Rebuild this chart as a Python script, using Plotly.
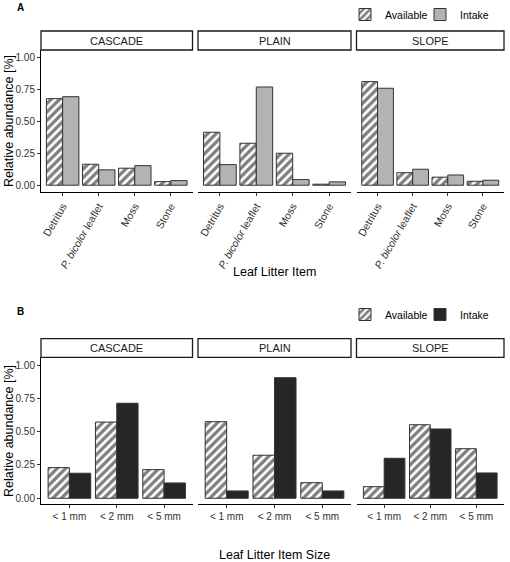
import plotly.graph_objects as go

# ---------------- data ----------------
sites = ["CASCADE", "PLAIN", "SLOPE"]

items = ["Detritus", "P. bicolor leaflet", "Moss", "Stone"]
item_ticktext = ["Detritus", "<i>P. bicolor</i> leaflet", "Moss", "Stone"]

a_cascade_available = [0.677, 0.164, 0.133, 0.028]
a_cascade_intake = [0.692, 0.120, 0.153, 0.036]
a_plain_available = [0.414, 0.328, 0.250, 0.008]
a_plain_intake = [0.161, 0.768, 0.044, 0.026]
a_slope_available = [0.810, 0.098, 0.063, 0.031]
a_slope_intake = [0.758, 0.125, 0.080, 0.039]

sizes = ["< 1 mm", "< 2 mm", "< 5 mm"]

b_cascade_available = [0.230, 0.572, 0.215]
b_cascade_intake = [0.188, 0.713, 0.115]
b_plain_available = [0.575, 0.323, 0.117]
b_plain_intake = [0.055, 0.905, 0.055]
b_slope_available = [0.087, 0.552, 0.372]
b_slope_intake = [0.300, 0.520, 0.190]

y_ticks = [0.0, 0.25, 0.5, 0.75, 1.0]

# ---------------- layout helpers ----------------
W, H = 510, 562
def fx(px):
    return px / W
def fy(px):
    return 1 - px / H

FONT = "Liberation Sans, Arial, sans-serif"
col_px = [(41, 192.5), (198, 351), (356.5, 504)]
rowA = (50, 192)      # plot area top/bottom px
rowB = (357.3, 504)
stripA = (31, 50)
stripB = (338.7, 357.3)

intake_a_color = "#b3b3b3"
intake_b_color = "#262626"
outline = "#333333"
tick_color = "#333333"

avail_marker = dict(color="white",
                    pattern=dict(shape="/", fgcolor="black", bgcolor="white",
                                 size=6, solidity=0.55),
                    line=dict(color=outline, width=1))

fig = go.Figure()

rowA_data = [(a_cascade_available, a_cascade_intake),
             (a_plain_available, a_plain_intake),
             (a_slope_available, a_slope_intake)]
rowB_data = [(b_cascade_available, b_cascade_intake),
             (b_plain_available, b_plain_intake),
             (b_slope_available, b_slope_intake)]

layout_axes = {}
for r, (cats, ticktext, data, rowpx, leg_av, leg_in, icol) in enumerate([
        (items, item_ticktext, rowA_data, rowA, "legend", "legend2", intake_a_color),
        (sizes, sizes, rowB_data, rowB, "legend3", "legend4", intake_b_color)]):
    for c in range(3):
        k = r * 3 + c + 1
        xa = "x" if k == 1 else f"x{k}"
        ya = "y" if k == 1 else f"y{k}"
        avail, intake = data[c]
        fig.add_trace(go.Bar(x=cats, y=avail, name="Available", marker=avail_marker,
                             xaxis=xa, yaxis=ya, legend=leg_av,
                             showlegend=(c == 2), hoverinfo="x+y"))
        fig.add_trace(go.Bar(x=cats, y=intake, name="Intake",
                             marker=dict(color=icol, line=dict(color=outline, width=1)),
                             xaxis=xa, yaxis=ya, legend=leg_in,
                             showlegend=(c == 2), hoverinfo="x+y"))
        n = len(cats)
        layout_axes["xaxis" if k == 1 else f"xaxis{k}"] = dict(
            domain=[fx(col_px[c][0]), fx(col_px[c][1])],
            anchor=ya, type="category", range=[-0.6, n - 0.4],
            showline=True, linecolor="black", linewidth=1,
            ticks="outside", ticklen=3, tickcolor=outline, tickwidth=1,
            tickvals=cats, ticktext=ticktext,
            tickangle=-60 if r == 0 else 0,
            tickfont=dict(family=FONT, size=10.5 if r == 0 else 10, color=tick_color),
            showgrid=False, zeroline=False, fixedrange=True)
        layout_axes["yaxis" if k == 1 else f"yaxis{k}"] = dict(
            domain=[fy(rowpx[1]), fy(rowpx[0])],
            anchor=xa, range=[-0.053, 1.057] if r == 0 else [-0.043, 1.058],
            showline=(c == 0), linecolor="black", linewidth=1,
            ticks="outside" if c == 0 else "", ticklen=3, tickcolor=outline,
            tickvals=y_ticks, tickformat=".2f", showticklabels=(c == 0),
            tickfont=dict(family=FONT, size=10, color=tick_color),
            showgrid=False, zeroline=False, fixedrange=True)

shapes = []
annotations = []
for strip in (stripA, stripB):
    for c, name in enumerate(sites):
        shapes.append(dict(type="rect", xref="paper", yref="paper",
                           x0=fx(col_px[c][0]), x1=fx(col_px[c][1]),
                           y0=fy(strip[1]), y1=fy(strip[0]),
                           line=dict(color="#1a1a1a", width=1.3), fillcolor="white",
                           layer="below"))
        annotations.append(dict(text=name, xref="paper", yref="paper",
                                x=fx((col_px[c][0] + col_px[c][1]) / 2),
                                y=fy((strip[0] + strip[1]) / 2),
                                showarrow=False, xanchor="center", yanchor="middle",
                                font=dict(family=FONT, size=11, color="#1a1a1a")))

annotations += [
    dict(text="<b>A</b>", xref="paper", yref="paper", x=fx(20), y=fy(7),
         showarrow=False, xanchor="center", yanchor="middle",
         font=dict(family=FONT, size=10, color="black")),
    dict(text="<b>B</b>", xref="paper", yref="paper", x=fx(20), y=fy(311),
         showarrow=False, xanchor="center", yanchor="middle",
         font=dict(family=FONT, size=10, color="black")),
    dict(text="Relative abundance [%]", xref="paper", yref="paper", x=fx(9), y=fy(121),
         textangle=-90, showarrow=False, xanchor="center", yanchor="middle",
         font=dict(family=FONT, size=12.5, color="black")),
    dict(text="Relative abundance [%]", xref="paper", yref="paper", x=fx(9), y=fy(431),
         textangle=-90, showarrow=False, xanchor="center", yanchor="middle",
         font=dict(family=FONT, size=12.5, color="black")),
    dict(text="Leaf Litter Item", xref="paper", yref="paper", x=fx(274), y=fy(272),
         showarrow=False, xanchor="center", yanchor="middle",
         font=dict(family=FONT, size=12.5, color="black")),
    dict(text="Leaf Litter Item Size", xref="paper", yref="paper", x=fx(274), y=fy(555),
         showarrow=False, xanchor="center", yanchor="middle",
         font=dict(family=FONT, size=12.5, color="black")),
]

leg_common = dict(orientation="h", xanchor="left", yanchor="top",
                  font=dict(family=FONT, size=10.5, color="black"),
                  bgcolor="rgba(0,0,0,0)", itemwidth=30, tracegroupgap=0,
                  itemclick=False, itemdoubleclick=False)

fig.update_layout(
    width=W, height=H,
    margin=dict(l=0, r=0, t=0, b=0),
    paper_bgcolor="white", plot_bgcolor="white",
    barmode="group", bargap=0.1, bargroupgap=0,
    font=dict(family=FONT),
    shapes=shapes, annotations=annotations,
    legend=dict(x=fx(345), y=fy(0), **leg_common),
    legend2=dict(x=fx(420), y=fy(0), **leg_common),
    legend3=dict(x=fx(345), y=fy(300), **leg_common),
    legend4=dict(x=fx(420), y=fy(300), **leg_common),
    **layout_axes,
)

fig.write_html("out.html",
               config={"displayModeBar": False},
               post_script="document.body.style.margin='0';"
                           "document.body.style.overflow='hidden';")
